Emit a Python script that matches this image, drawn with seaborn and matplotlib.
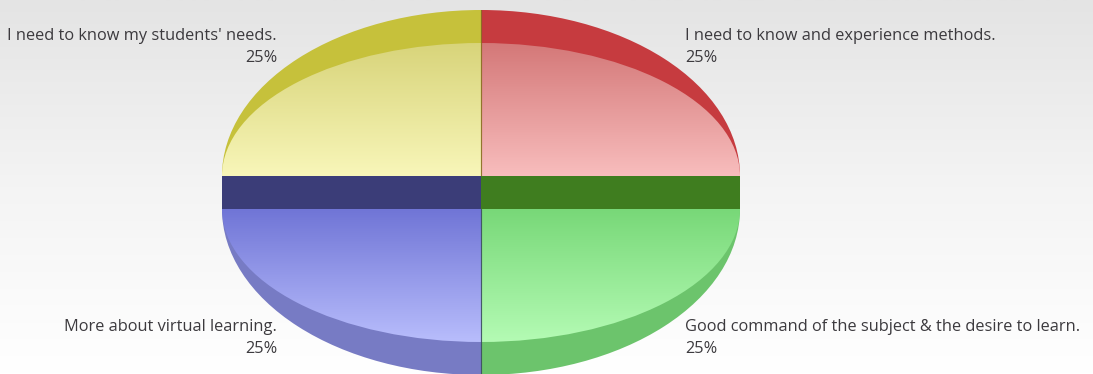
import numpy as np
import matplotlib
matplotlib.use("Agg")
import matplotlib.pyplot as plt
import seaborn as sns
from matplotlib.patches import Wedge, Polygon
from matplotlib.transforms import Affine2D

# Survey answers, clockwise from 12 o'clock
answers = [
    "I need to know and experience methods.",
    "Good command of the subject & the desire to learn.",
    "More about virtual learning.",
    "I need to know my students' needs.",
]
shares = [25, 25, 25, 25]

wall_colors = ["#c63b3f", "#6cc46c", "#777bc4", "#c6c13b"]
face_top_colors = ["#d47878", "#78d878", "#7075d6", "#d8d47a"]
face_bottom_colors = ["#f8bdbd", "#b4fbb4", "#b8bdfc", "#f8f6b9"]
side_colors = ["#8a2a2a", "#3f7d1f", "#3b3d78", "#8a8620"]

sns.set_theme(style="white")
plt.rcParams["font.family"] = ["Open Sans", "DejaVu Sans"]

fig = plt.figure(figsize=(10.93, 3.74), dpi=100)
ax = fig.add_axes([0, 0, 1, 1])
ax.set_xlim(0, 1093)
ax.set_ylim(374, 0)
ax.axis("off")

# soft grey-to-white page background
bg_cmap = sns.blend_palette(["#e4e4e4", "#f4f4f4", "#ffffff"], n_colors=256, as_cmap=True)
ax.imshow(np.linspace(0, 1, 256)[:, None], cmap=bg_cmap, aspect="auto",
          extent=(0, 1093, 374, 0), origin="upper", zorder=0)

# pie geometry (pixel units)
cx, rx = 481, 259
ry_face, ry_wall = 133, 166
cy_upper, cy_lower = 176, 209


def ellipse(cy, ry):
    return Affine2D().scale(rx, -ry).translate(cx, cy) + ax.transData


fracs = np.array(shares, dtype=float) / np.sum(shares)
ends = 90 - 360 * np.cumsum(fracs)
starts = ends + 360 * fracs

slices = []
for i, (t1, t2) in enumerate(zip(ends, starts)):
    mid = np.deg2rad((t1 + t2) / 2)
    upper = np.sin(mid) > 0
    slices.append((i, t1, t2, mid, upper))

order = [s for s in slices if s[4]] + [s for s in slices if not s[4]]
for i, t1, t2, mid, upper in order:
    cy = cy_upper if upper else cy_lower
    z = 2 if upper else 4
    # outer wall
    ax.add_patch(Wedge((0, 0), 1, t1, t2, transform=ellipse(cy, ry_wall),
                       facecolor=wall_colors[i], edgecolor="none", zorder=z))
    if not upper:
        # radial side face showing between the halves
        for t in (t1, t2):
            if abs(np.sin(np.deg2rad(t))) < 1e-6:
                xe = cx + rx * np.cos(np.deg2rad(t))
                ax.add_patch(Polygon([(cx, cy_upper), (xe, cy_upper), (xe, cy_lower), (cx, cy_lower)],
                                     closed=True, facecolor=side_colors[i],
                                     edgecolor="none", zorder=z + 0.5))
    # top face with vertical shading
    face = Wedge((0, 0), 1, t1, t2, transform=ellipse(cy, ry_face),
                 facecolor="none", edgecolor="none", zorder=z + 1)
    ax.add_patch(face)
    cmap = sns.blend_palette([face_top_colors[i], face_bottom_colors[i]], n_colors=256, as_cmap=True)
    y_top = cy - ry_face if upper else cy
    y_bot = cy if upper else cy + ry_face
    img = ax.imshow(np.linspace(0, 1, 256)[:, None], cmap=cmap, aspect="auto",
                    extent=(cx - rx, cx + rx, y_bot, y_top), origin="upper",
                    zorder=z + 1, interpolation="bilinear")
    img.set_clip_path(face)
    # thin divider along the radial edges
    for t in (t1, t2):
        if abs(np.cos(np.deg2rad(t))) < 1e-6:
            ye = cy - ry_wall * np.sin(np.deg2rad(t))
            ax.plot([cx, cx], [cy, ye], color=side_colors[i], lw=0.8, alpha=0.7,
                    zorder=z + 2)

    # labels
    right = np.cos(mid) > 0
    lx = cx + (204 if right else -204)
    ly = cy_upper - 140 if upper else cy_lower + 118
    ha = "left" if right else "right"
    ax.text(lx, ly, answers[i], ha=ha, va="center", fontsize=11.8, color="#3c3a3e", zorder=10)
    ax.text(lx, ly + 22, f"{shares[i]:.0f}%", ha=ha, va="center", fontsize=11.8,
            color="#3c3a3e", zorder=10)

ax.set_xlim(0, 1093)
ax.set_ylim(374, 0)
fig.savefig("out.png", dpi=100)
